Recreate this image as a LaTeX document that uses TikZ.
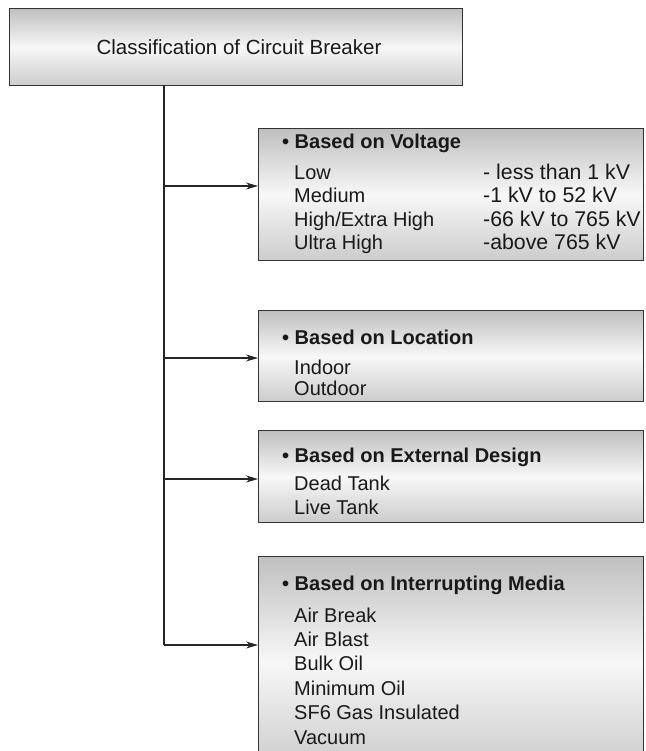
\documentclass[tikz,border=0pt]{standalone}
\usepackage{fontspec}
\setmainfont{Liberation Sans}
\usetikzlibrary{arrows.meta}
\begin{document}
\begin{tikzpicture}[x=1pt,y=-1pt,
  box/.style={rectangle, draw=black!80, line width=1.3pt, top color=black!25,
    bottom color=black!20, middle color=black!3, inner sep=0pt, anchor=north west},
  txt/.style={anchor=base west, inner sep=0pt, text=black!90, font=\fontsize{20}{24}\selectfont},
  rtxt/.style={txt, font=\fontsize{21.3}{24}\selectfont},
  head/.style={txt, font=\fontsize{20}{24}\selectfont\bfseries},
  link/.style={line width=1.1pt, draw=black!85},
  arr/.style={link, -{Stealth[length=12pt,width=7pt]}}
]
\clip (0,0) rectangle (645,751);
\fill[white] (0,0) rectangle (645,751);

% title box
\node[box, minimum width=453pt, minimum height=77pt] (title) at (9,8) {};
\node[inner sep=0pt, text=black!90, font=\fontsize{20.5}{24}\selectfont] (titletxt) at (239,47) {Classification of Circuit Breaker};

% category boxes
\node[box, minimum width=385pt, minimum height=132pt] (b1) at (258,128) {};
\node[box, minimum width=385pt, minimum height=91pt] (b2) at (258,310) {};
\node[box, minimum width=385pt, minimum height=92pt] (b3) at (258,430) {};
\node[box, minimum width=385pt, minimum height=210pt] (b4) at (258,556) {};

% box 1 text
\node[head] (h1) at (282,149) {• Based on Voltage};
\node[txt] (l1a) at (294,180) {Low};
\node[txt] (l1b) at (294,203) {Medium};
\node[txt] (l1c) at (294,226) {High/Extra High};
\node[txt] (l1d) at (294,249) {Ultra High};
\node[rtxt] (r1a) at (483,180) {- less than 1 kV};
\node[rtxt] (r1b) at (483,203) {-1 kV to 52 kV};
\node[rtxt] (r1c) at (483,226) {-66 kV to 765 kV};
\node[rtxt] (r1d) at (483,249) {-above 765 kV};

% box 2 text
\node[head] (h2) at (282,344) {• Based on Location};
\node[txt] (l2a) at (294,374) {Indoor};
\node[txt] (l2b) at (294,395) {Outdoor};

% box 3 text
\node[head] (h3) at (282,462) {• Based on External Design};
\node[txt] (l3a) at (294,490) {Dead Tank};
\node[txt] (l3b) at (294,514) {Live Tank};

% box 4 text
\node[head] (h4) at (282,590) {• Based on Interrupting Media};
\node[txt] (l4a) at (294,622) {Air Break};
\node[txt] (l4b) at (294,646) {Air Blast};
\node[txt] (l4c) at (294,670) {Bulk Oil};
\node[txt] (l4d) at (294,695) {Minimum Oil};
\node[txt] (l4e) at (294,719) {SF6 Gas Insulated};
\node[txt] (l4f) at (294,744) {Vacuum};

% connectors
\coordinate (top) at (164,85);
\coordinate (j1) at (164,186);
\coordinate (j2) at (164,358);
\coordinate (j3) at (164,479);
\coordinate (j4) at (164,645);
\draw[link] (top) -- (j4);
\draw[arr] (j1) -- (j1 -| b1.west);
\draw[arr] (j2) -- (j2 -| b2.west);
\draw[arr] (j3) -- (j3 -| b3.west);
\draw[arr] (j4) -- (j4 -| b4.west);
\end{tikzpicture}
\end{document}
